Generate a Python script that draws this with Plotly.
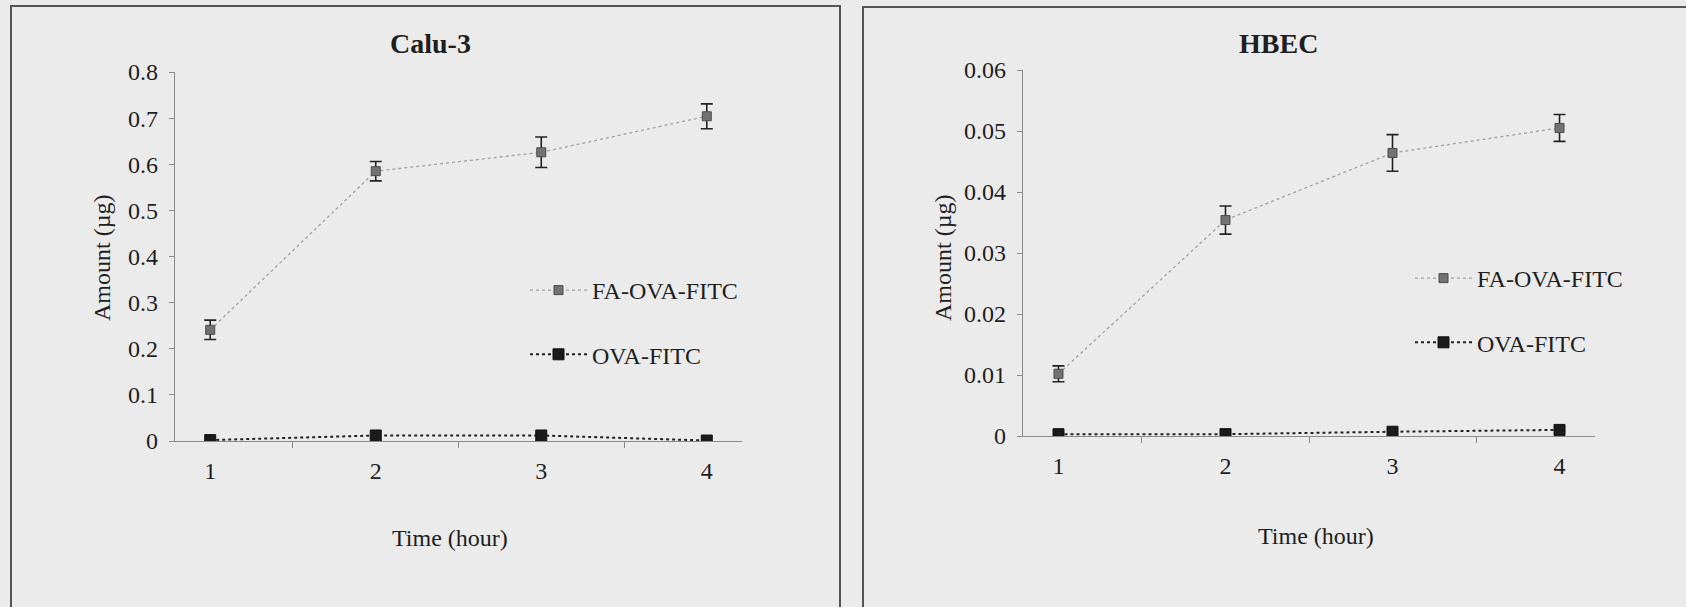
import plotly.graph_objects as go

W, H = 1686, 607

times = ["1", "2", "3", "4"]

calu_fa = [0.241, 0.585, 0.626, 0.704]
calu_fa_err = [0.021, 0.021, 0.033, 0.027]
calu_ova = [0.002, 0.012, 0.012, 0.001]

hbec_fa = [0.0102, 0.0354, 0.0464, 0.0505]
hbec_fa_err = [0.0013, 0.0023, 0.0030, 0.0022]
hbec_ova = [0.0003, 0.0003, 0.0007, 0.0010]

FONT = "Liberation Serif"
TXT = "#1e1e1e"
BG = "#ebebeb"
AXC = "#8a8a8a"

def px(x):
    return x / W

def py(y):
    return 1 - y / H

fig = go.Figure()

def add_panel(fa, fa_err, ova, xa, ya, leg):
    fig.add_trace(go.Scatter(
        x=times, y=fa, name="FA-OVA-FITC", mode="lines+markers",
        xaxis=xa, yaxis=ya, legend=leg, legendgroup=leg + "a",
        line=dict(color="#a0a0a0", width=1.3, dash="dot"),
        marker=dict(symbol="square", size=9, color="#737373",
                    line=dict(color="#4a4a4a", width=1)),
        error_y=dict(type="data", array=fa_err, visible=True,
                     color="#222222", thickness=1.6, width=6),
    ))
    fig.add_trace(go.Scatter(
        x=times, y=ova, name="OVA-FITC", mode="lines+markers",
        xaxis=xa, yaxis=ya, legend=leg, legendgroup=leg + "b",
        line=dict(color="#222222", width=2, dash="dot"),
        marker=dict(symbol="square", size=11, color="#1a1a1a",
                    line=dict(color="#111111", width=1)),
    ))

add_panel(calu_fa, calu_fa_err, calu_ova, "x", "y", "legend")
add_panel(hbec_fa, hbec_fa_err, hbec_ova, "x2", "y2", "legend2")

xcommon = dict(
    type="category", tickson="boundaries", ticks="outside", ticklen=6,
    tickcolor=AXC, tickwidth=1, showline=True, linecolor=AXC, linewidth=1.2,
    showgrid=False, zeroline=False, ticklabelstandoff=8, automargin=False,
    tickfont=dict(family=FONT, size=24, color=TXT), fixedrange=True,
)
ycommon = dict(
    ticks="outside", ticklen=5, tickcolor=AXC, tickwidth=1,
    showline=True, linecolor=AXC, linewidth=1.2, showgrid=False,
    zeroline=False, ticklabelstandoff=6, automargin=False,
    tickfont=dict(family=FONT, size=24, color=TXT), fixedrange=True,
)

legcommon = dict(
    font=dict(family=FONT, size=24, color=TXT), bgcolor="rgba(0,0,0,0)",
    tracegroupgap=30, xanchor="left", yanchor="top", itemwidth=57,
)

fig.update_layout(
    width=W, height=H, autosize=False,
    margin=dict(l=0, r=0, t=0, b=0, pad=0, autoexpand=False),
    paper_bgcolor=BG, plot_bgcolor="rgba(0,0,0,0)",
    showlegend=True,
    xaxis=dict(domain=[px(175), px(742)], anchor="y", **xcommon),
    yaxis=dict(domain=[py(441), py(72)], anchor="x", range=[0, 0.8],
               tickvals=[0, 0.1, 0.2, 0.3, 0.4, 0.5, 0.6, 0.7, 0.8],
               ticktext=["0", "0.1", "0.2", "0.3", "0.4", "0.5", "0.6", "0.7", "0.8"],
               **ycommon),
    xaxis2=dict(domain=[px(1023), px(1595)], anchor="y2", **xcommon),
    yaxis2=dict(domain=[py(436), py(70)], anchor="x2", range=[0, 0.06],
                tickvals=[0, 0.01, 0.02, 0.03, 0.04, 0.05, 0.06],
                ticktext=["0", "0.01", "0.02", "0.03", "0.04", "0.05", "0.06"],
                **ycommon),
    legend=dict(x=px(525), y=py(268), **legcommon),
    legend2=dict(x=px(1410), y=py(256), **legcommon),
)

# panel frames
fig.add_shape(type="rect", xref="paper", yref="paper",
              x0=px(11), x1=px(840), y0=py(640), y1=py(6),
              line=dict(color="#555555", width=2), fillcolor="rgba(0,0,0,0)", layer="below")
fig.add_shape(type="rect", xref="paper", yref="paper",
              x0=px(863), x1=px(1720), y0=py(640), y1=py(7),
              line=dict(color="#555555", width=2), fillcolor="rgba(0,0,0,0)", layer="below")

def ann(text, x, y, size, bold=False, angle=0):
    fig.add_annotation(
        text=f"<b>{text}</b>" if bold else text,
        xref="paper", yref="paper", x=px(x), y=py(y),
        xanchor="center", yanchor="middle", showarrow=False, textangle=angle,
        font=dict(family=FONT, size=size, color=TXT),
    )

ann("Calu-3", 430, 43, 28, bold=True)
ann("HBEC", 1278, 43, 28, bold=True)
ann("Time (hour)", 450, 538, 24)
ann("Time (hour)", 1316, 536, 24)
ann("Amount (µg)", 102, 258, 24, angle=-90)
ann("Amount (µg)", 943, 258, 24, angle=-90)

fig.write_html(
    "out.html",
    config={"displayModeBar": False, "staticPlot": True},
    post_script="document.body.style.margin='0px';document.body.style.padding='0px';document.body.style.overflow='hidden';",
)
